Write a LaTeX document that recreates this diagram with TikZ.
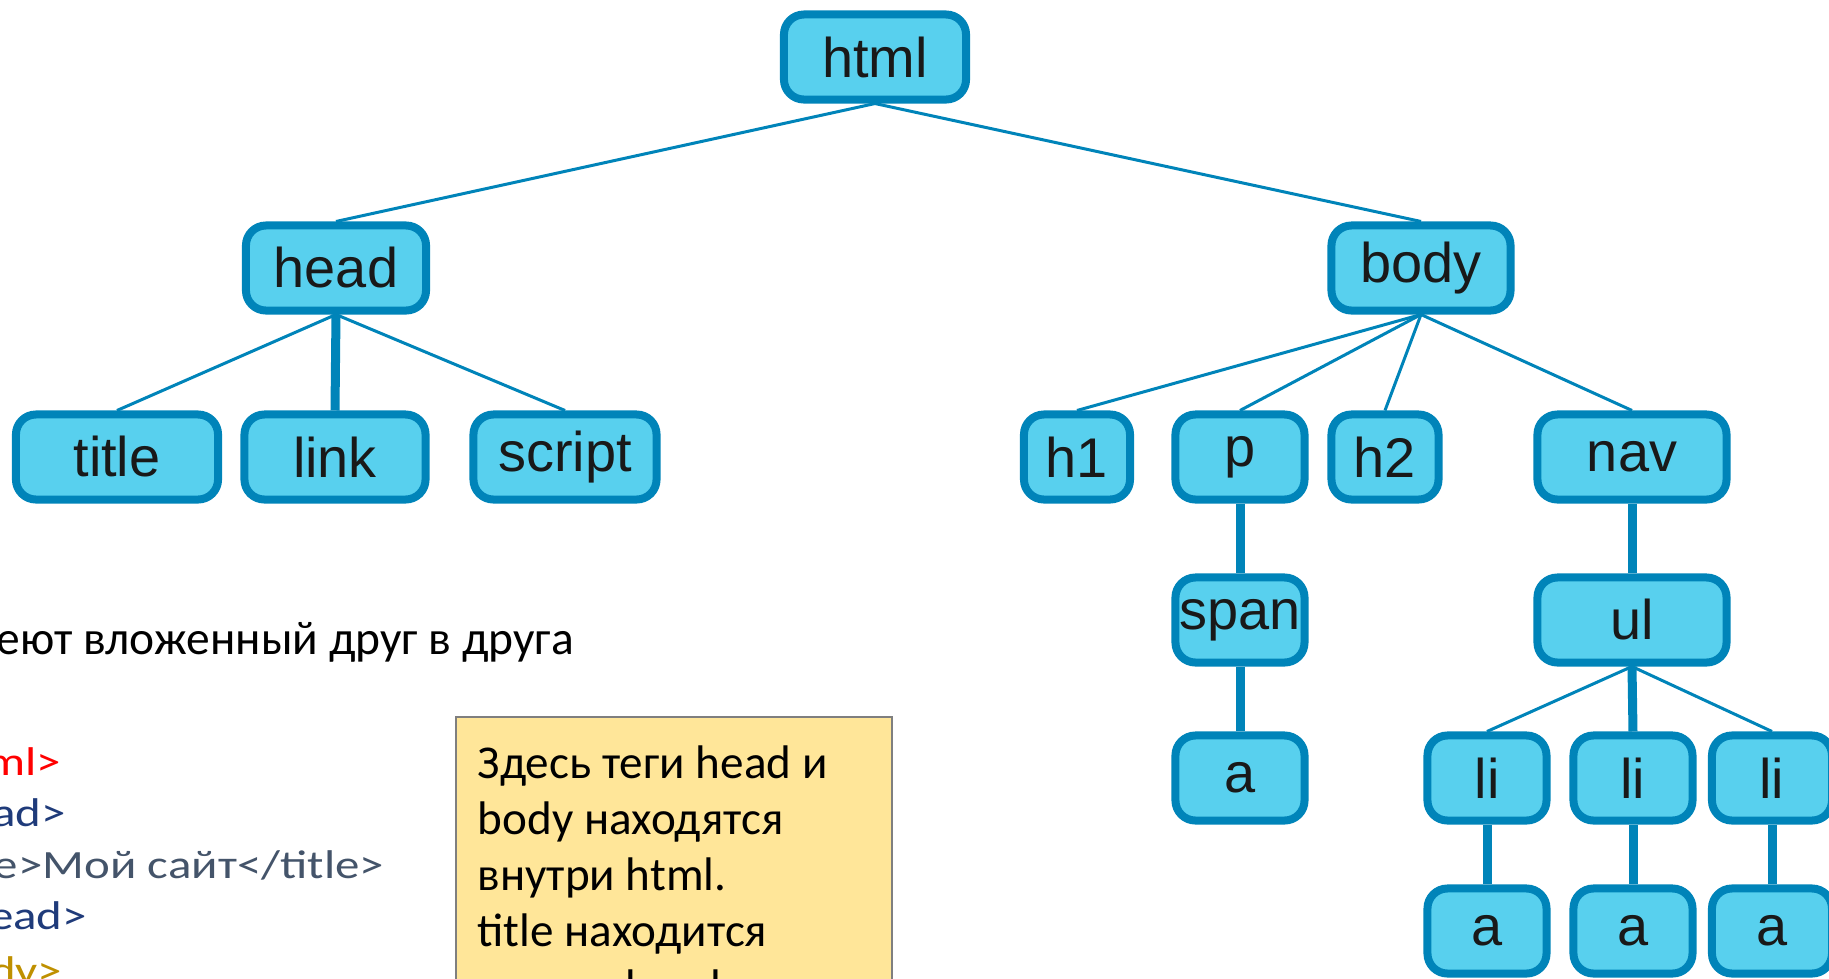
\documentclass[tikz,border=0pt]{standalone}
\usepackage{fontspec}
\setmainfont{Carlito}
\newfontfamily\tagfont{Liberation Sans}
\usetikzlibrary{positioning}
\definecolor{tagfill}{HTML}{58D0EE}
\definecolor{tagline}{HTML}{0084B9}
\definecolor{notefill}{HTML}{FFE699}
\definecolor{noteline}{HTML}{7F7F7F}
\definecolor{codered}{HTML}{FF0000}
\definecolor{codenavy}{HTML}{1F3B7A}
\definecolor{codeslate}{HTML}{44546A}
\definecolor{codegold}{HTML}{BF9000}
\tikzset{%
  tag/.style={draw=tagline, fill=tagfill, line width=0.08cm,
    rounded corners=0.2cm, minimum height=0.85cm, inner sep=0pt,
    text=black!90, font=\tagfont\fontsize{15.9}{19}\selectfont},%
  edge/.style={draw=tagline, line width=0.03cm},%
  stem/.style={draw=tagline, line width=0.09cm},%
  codeline/.style={anchor=base west, inner sep=0pt, outer sep=0pt,
    xscale=1.22, font=\fontsize{11.4}{13}\selectfont}%
}

\begin{document}
\begin{tikzpicture}[x=0.01cm,y=-0.01cm]
	%% some definitions
	
	\def\W{1829} % picture width
	\def\H{978} % picture height
	\def\rowA{57} % html
	\def\rowB{268} % head, body
	\def\rowC{457} % title ... nav
	\def\rowD{620} % span, ul
	\def\rowE{778} % a, li
	\def\rowF{931} % a under li
	
	\useasboundingbox (0,0) rectangle (\W,\H);
	\clip (0,0) rectangle (\W,\H);
	
	%% the tree
	
	\node[tag, minimum width=1.82cm] (html) at (875,\rowA) {html};
	\node[tag, minimum width=1.80cm] (head) at (336,\rowB) {head};
	\node[tag, minimum width=1.79cm] (body) at (1421,\rowB) {body};
	
	\node[tag, minimum width=2.02cm] (title) at (117,\rowC) {title};
	\node[tag, minimum width=1.81cm] (link) at (335,\rowC) {link};
	\node[tag, minimum width=1.83cm] (script) at (565,\rowC) {script};
	
	\node[tag, minimum width=1.06cm] (h1) at (1077,\rowC) {h1};
	\node[tag, minimum width=1.29cm] (p) at (1240,\rowC) {p};
	\node[tag, minimum width=1.07cm] (h2) at (1385,\rowC) {h2};
	\node[tag, minimum width=1.89cm] (nav) at (1632,\rowC) {nav};
	
	\node[tag, minimum width=1.29cm] (span) at (1240,\rowD) {span};
	\node[tag, minimum width=1.89cm] (ul) at (1632,\rowD) {ul};
	
	\node[tag, minimum width=1.29cm] (aspan) at (1240,\rowE) {a};
	\node[tag, minimum width=1.19cm] (li1) at (1487,\rowE) {li};
	\node[tag, minimum width=1.19cm] (li2) at (1633,\rowE) {li};
	\node[tag, minimum width=1.20cm] (li3) at (1772,\rowE) {li};
	
	\node[tag, minimum width=1.19cm] (a1) at (1487,\rowF) {a};
	\node[tag, minimum width=1.19cm] (a2) at (1633,\rowF) {a};
	\node[tag, minimum width=1.20cm] (a3) at (1772,\rowF) {a};
	
	\foreach \from/\to in {html/head, html/body, head/title, head/script,
	  body/h1, body/p, body/h2, body/nav, ul/li1, ul/li3}
	  \draw[edge] (\from.south) -- (\to.north);
	\foreach \from/\to in {head/link, p/span, span/aspan, nav/ul,
	  ul/li2, li1/a1, li2/a2, li3/a3}
	  \draw[stem] (\from.south) -- (\to.north);
	
	%% text on the left
	
	\node[anchor=base west, inner sep=0pt, font=\fontsize{13.5}{16}\selectfont]
	  (lead) at (-4,654) {еют вложенный друг в друга};
	
	\node[codeline, text=codered] (c1) at (-14,775) {ml>};
	\node[codeline, text=codenavy] (c2) at (-8,826) {ad>};
	\node[codeline, text=codeslate] (c3) at (-6,878) {e>Мой сайт</title>};
	\node[codeline, text=codenavy] (c4) at (-11,929) {ead>};
	\node[codeline, text=codegold] (c5) at (-10,984) {dy>};
	
	%% note
	
	\draw[fill=notefill, draw=noteline, line width=0.02cm] (456,717) rectangle (892,1010);
	\node[anchor=north west, inner sep=0pt, align=left,
	  font=\fontsize{13.4}{15.93}\selectfont] (note) at (477,745)
	  {Здесь теги head и\\body находятся\\внутри html.\\title находится\\внутри head.};
	    	
\end{tikzpicture}
\end{document}
